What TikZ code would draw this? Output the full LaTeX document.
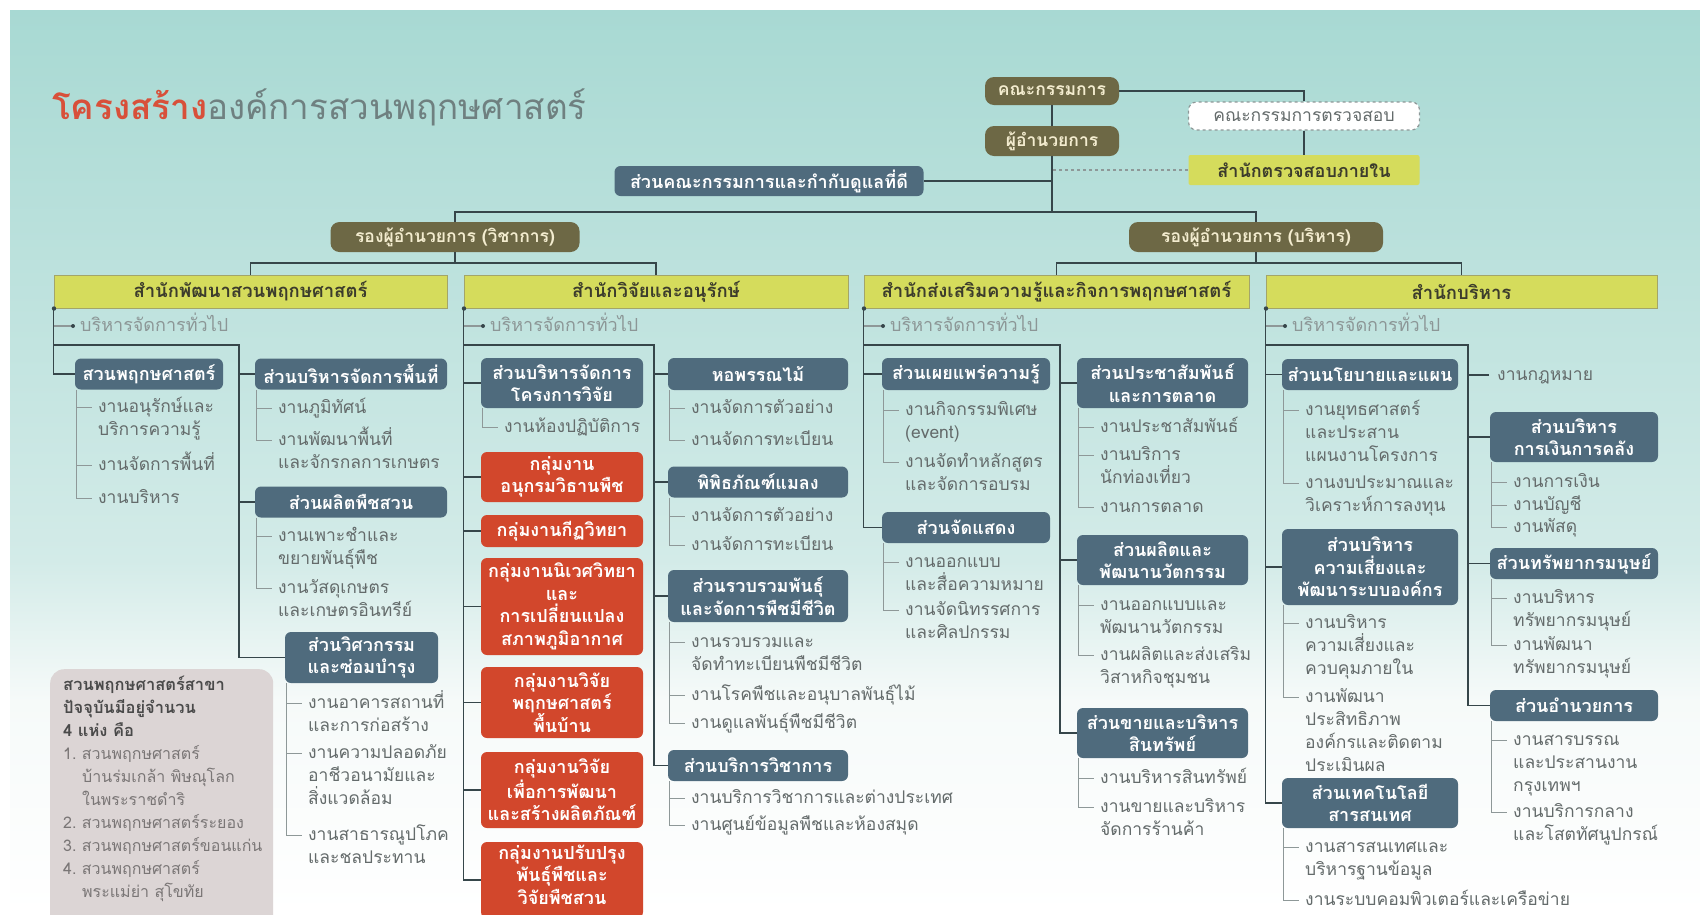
\documentclass[tikz,border=0pt]{standalone}
\usepackage{fontspec}
\newfontfamily\thai[Script=Thai]{Loma}
\usetikzlibrary{calc}
\definecolor{cBlue}{HTML}{4F6B7D}
\definecolor{cRed}{HTML}{D2472C}
\definecolor{cYel}{HTML}{D5DC5C}
\definecolor{cYelB}{HTML}{A3A56A}
\definecolor{cOlive}{HTML}{6D6845}
\definecolor{cOlTxt}{HTML}{F3ECCF}
\definecolor{cSpine}{HTML}{36464A}
\definecolor{cItemL}{HTML}{8E9898}
\definecolor{cItemT}{HTML}{646B6B}
\definecolor{cGen}{HTML}{8C9696}
\definecolor{cHdrTxt}{HTML}{3C3C2C}
\definecolor{cNote}{HTML}{DCD5D5}
\definecolor{cNoteB}{HTML}{4A4A4A}
\definecolor{cNoteL}{HTML}{7A7676}
\definecolor{cTitleR}{HTML}{D8503A}
\definecolor{cTitleG}{HTML}{6F8080}
\definecolor{bgTop}{HTML}{A8D9D3}
\definecolor{bgMid}{HTML}{D3EBE8}
\definecolor{bgLow}{HTML}{F6FAF9}
\newcommand\myBoxFont{\thai\bfseries\fontsize{18}{22.5}\selectfont}
\newcommand\myItemFont{\thai\fontsize{17.5}{23}\selectfont}
\newcommand\myHdrFont{\thai\bfseries\fontsize{18.5}{22}\selectfont}
\newcommand\myOlFont{\thai\bfseries\fontsize{17.5}{20}\selectfont}
\newcommand\myNoteFont{\thai\fontsize{16}{23}\selectfont}
% item: name, vertical-line x, first-line y, text
\newcommand\Itm[4]{%
  \node[itemtext, anchor=north west] (#1) at (#2+21,#3-14) {\rule{0pt}{19pt}#4};
  \draw[itemline] (#2,#3) -- ([shift={(-6,14)}]#1.north west);}
\newcommand\Gen[2]{%
  \draw[itemline, line width=1.2pt] (#2,326) -- (#2+19,326);
  \fill[cSpine] (#2+19,326) circle (2pt);
  \node[gentext, anchor=base west] (#1) at (#2+26,331.5) {บริหารจัดการทั่วไป};
  \fill[cSpine] (#2,308.5) circle (2.2pt);}
\begin{document}
\begin{tikzpicture}[x=1pt,y=-1pt,
  bluebox/.style={rounded corners=6pt, fill=cBlue, text=white, font=\myBoxFont, align=center, inner sep=0pt},
  redbox/.style={bluebox, fill=cRed},
  hdr/.style={fill=cYel, draw=cYelB, line width=1pt, font=\myHdrFont, text=cHdrTxt, inner sep=0pt},
  olbox/.style={rounded corners=9pt, fill=cOlive, text=cOlTxt, font=\myOlFont, inner sep=0pt},
  auditbox/.style={rounded corners=8pt, fill=white, draw=cItemL, dashed, line width=1.2pt, text=cItemT, font=\thai\fontsize{17.5}{20}\selectfont, inner sep=0pt},
  spine/.style={draw=cSpine, line width=1.3pt},
  itemline/.style={draw=cItemL, line width=0.9pt},
  itemtext/.style={font=\myItemFont, text=cItemT, align=left, inner sep=0pt},
  gentext/.style={font=\thai\fontsize{18}{22}\selectfont, text=cGen, inner sep=0pt},
  notebox/.style={fill=cNote, rounded corners=14pt, inner sep=0pt}
]
\useasboundingbox (0,0) rectangle (1700,914);
% background
\fill[white] (0,0) rectangle (1700,914);
\shade[top color=bgTop, bottom color=bgMid] (10,10) rectangle (1700,560.5);
\shade[top color=bgMid, bottom color=bgLow] (10,560) rectangle (1700,700.5);
\shade[top color=bgLow, bottom color=white] (10,700) rectangle (1700,914);

% title
\node[anchor=base west, inner sep=0pt] (title) at (52,119)
  {\thai\fontsize{35}{40}\selectfont{\bfseries\color{cTitleR}โครงสร้าง}{\color{cTitleG}องค์การสวนพฤกษศาสตร์}};

% top nodes
\node[olbox, minimum width=134pt, minimum height=28pt] (kk) at (1052,91) {คณะกรรมการ};
\node[olbox, minimum width=134pt, minimum height=30pt] (dir) at (1052,141) {ผู้อำนวยการ};
\node[auditbox, minimum width=231pt, minimum height=28pt] (audit) at (1304,116) {คณะกรรมการตรวจสอบ};
\node[hdr, draw=none, rounded corners=2pt, font=\myBoxFont, minimum width=231pt, minimum height=30pt] (ia) at (1304,170) {สำนักตรวจสอบภายใน};
\node[bluebox, minimum width=309pt, minimum height=30pt] (gov) at (769,181) {ส่วนคณะกรรมการและกำกับดูแลที่ดี};
\node[olbox, minimum width=249pt, minimum height=30pt] (vpa) at (455,237) {รองผู้อำนวยการ (วิชาการ)};
\node[olbox, minimum width=254pt, minimum height=30pt] (vpb) at (1256,237) {รองผู้อำนวยการ (บริหาร)};
\coordinate (busc) at (1052,212);

\draw[spine] (kk) -- (dir);
\draw[spine] (dir.south) -- (busc);
\draw[spine] (kk.east) -| (audit.north);
\draw[spine] (audit) -- (ia);
\draw[draw=cItemL, dashed, line width=1.5pt] (ia.west) -- (ia.west -| dir.south);
\draw[spine] (gov.east) -- (gov.east -| dir.south);
\draw[spine] (vpa.north) |- (busc) -| (vpb.north);

% headers
\node[hdr, minimum width=393pt, minimum height=33pt] (h1) at (250.5,291.5) {สำนักพัฒนาสวนพฤกษศาสตร์};
\node[hdr, minimum width=384pt, minimum height=33pt] (h2) at (656,291.5) {สำนักวิจัยและอนุรักษ์};
\node[hdr, minimum width=385pt, minimum height=33pt] (h3) at (1056.5,291.5) {สำนักส่งเสริมความรู้และกิจการพฤกษศาสตร์};
\node[hdr, minimum width=391pt, minimum height=33pt] (h4) at (1461.5,291.5) {สำนักบริหาร};
\coordinate (b2a) at (455,263);
\coordinate (b2b) at (1256,263);
\draw[spine] (vpa.south) -- (b2a);
\draw[spine] (vpb.south) -- (b2b);
\draw[spine] (h1.north) |- (b2a) -| (h2.north);
\draw[spine] (h3.north) |- (b2b) -| (h4.north);

% ================= column 1
\node[bluebox, minimum width=148pt, minimum height=31pt] (b11) at (149,374) {สวนพฤกษศาสตร์};
\node[bluebox, minimum width=192pt, minimum height=31pt] (b12) at (351,374) {ส่วนบริหารจัดการพื้นที่};
\node[bluebox, minimum width=192pt, minimum height=31pt] (b13) at (351,502) {ส่วนผลิตพืชสวน};
\node[bluebox, minimum width=153pt, minimum height=51pt] (b14) at (361.5,657.5) {ส่วนวิศวกรรม\\และซ่อมบำรุง};
\draw[spine] (h1.south west) |- (b11.west);
\draw[spine] (54,345) -- (239,345) |- (b14.west);
\draw[spine] (b12.west) -- ++(-16,0);
\draw[spine] (b13.west) -- ++(-16,0);
\Gen{g1}{54}
\Itm{i11a}{77}{407}{งานอนุรักษ์และ\\บริการความรู้}
\Itm{i11b}{77}{465}{งานจัดการพื้นที่}
\Itm{i11c}{77}{498}{งานบริหาร}
\draw[itemline] ([xshift=2pt]b11.south west) |- ([shift={(-6,14)}]i11c.north west);
\Itm{i12a}{257}{408}{งานภูมิทัศน์}
\Itm{i12b}{257}{440}{งานพัฒนาพื้นที่\\และจักรกลการเกษตร}
\draw[itemline] ([xshift=2pt]b12.south west) |- ([shift={(-6,14)}]i12b.north west);
\Itm{i13a}{257}{536}{งานเพาะชำและ\\ขยายพันธุ์พืช}
\Itm{i13b}{257}{588}{งานวัสดุเกษตร\\และเกษตรอินทรีย์}
\draw[itemline] ([xshift=2pt]b13.south west) |- ([shift={(-6,14)}]i13b.north west);
\Itm{i14a}{287}{703}{งานอาคารสถานที่\\และการก่อสร้าง}
\Itm{i14b}{287}{753}{งานความปลอดภัย\\อาชีวอนามัยและ\\สิ่งแวดล้อม}
\Itm{i14c}{287}{835}{งานสาธารณูปโภค\\และชลประทาน}
\draw[itemline] ([xshift=2pt]b14.south west) |- ([shift={(-6,14)}]i14c.north west);

% note box
\node[notebox, anchor=north west, minimum width=223pt, minimum height=262pt] (notebg) at (50,669) {};
\node[anchor=north west, align=left, inner sep=0pt, font=\myNoteFont, text=cNoteL] (note) at (63,671)
 {\rule{0pt}{19pt}{\bfseries\color{cNoteB}\fontsize{16.5}{23}\selectfont สวนพฤกษศาสตร์สาขา}\\
  {\bfseries\color{cNoteB}\fontsize{16.5}{23}\selectfont ปัจจุบันมีอยู่จำนวน}\\
  {\bfseries\color{cNoteB}\fontsize{16.5}{23}\selectfont 4 แห่ง คือ}\\
  1.\ สวนพฤกษศาสตร์\\
  \hspace*{19pt}บ้านร่มเกล้า พิษณุโลก\\
  \hspace*{19pt}ในพระราชดำริ\\
  2.\ สวนพฤกษศาสตร์ระยอง\\
  3.\ สวนพฤกษศาสตร์ขอนแก่น\\
  4.\ สวนพฤกษศาสตร์\\
  \hspace*{19pt}พระแม่ย่า สุโขทัย};

% ================= column 2
\node[bluebox, minimum width=162pt, minimum height=50pt] (b21) at (562,383) {ส่วนบริหารจัดการ\\โครงการวิจัย};
\node[redbox, minimum width=162pt, minimum height=50pt] (r1) at (562,477) {กลุ่มงาน\\อนุกรมวิธานพืช};
\node[redbox, minimum width=162pt, minimum height=32pt] (r2) at (562,531) {กลุ่มงานกีฏวิทยา};
\node[redbox, minimum width=162pt, minimum height=97pt] (r3) at (562,606.5) {กลุ่มงานนิเวศวิทยา\\และ\\การเปลี่ยนแปลง\\สภาพภูมิอากาศ};
\node[redbox, minimum width=162pt, minimum height=71pt] (r4) at (562,702.5) {กลุ่มงานวิจัย\\พฤกษศาสตร์\\พื้นบ้าน};
\node[redbox, minimum width=162pt, minimum height=76pt] (r5) at (562,790) {กลุ่มงานวิจัย\\เพื่อการพัฒนา\\และสร้างผลิตภัณฑ์};
\node[redbox, minimum width=162pt, minimum height=76pt] (r6) at (562,880) {กลุ่มงานปรับปรุง\\พันธุ์พืชและ\\วิจัยพืชสวน\rule[-11pt]{0pt}{1pt}};
\node[bluebox, minimum width=180pt, minimum height=32pt] (s1) at (758,374) {หอพรรณไม้};
\node[bluebox, minimum width=180pt, minimum height=31pt] (s2) at (758,482) {พิพิธภัณฑ์แมลง};
\node[bluebox, minimum width=180pt, minimum height=52pt] (s3) at (758,596) {ส่วนรวบรวมพันธุ์\\และจัดการพืชมีชีวิต};
\node[bluebox, minimum width=180pt, minimum height=31pt] (s4) at (758,765.5) {ส่วนบริการวิชาการ};
\draw[spine] (h2.south west) |- (r6.west);
\foreach \n in {b21,r1,r2,r3,r4,r5} \draw[spine] (\n.west) -- ++(-17,0);
\draw[spine] (464,345) -- (654,345) |- (s4.west);
\foreach \n in {s1,s2,s3} \draw[spine] (\n.west) -- ++(-14,0);
\Gen{g2}{464}
\Itm{i21a}{483}{427}{งานห้องปฏิบัติการ}
\draw[itemline] ([xshift=2pt]b21.south west) |- ([shift={(-6,14)}]i21a.north west);
\Itm{is1a}{670}{408}{งานจัดการตัวอย่าง}
\Itm{is1b}{670}{440}{งานจัดการทะเบียน}
\draw[itemline] ([xshift=2pt]s1.south west) |- ([shift={(-6,14)}]is1b.north west);
\Itm{is2a}{670}{516}{งานจัดการตัวอย่าง}
\Itm{is2b}{670}{545}{งานจัดการทะเบียน}
\draw[itemline] ([xshift=2pt]s2.south west) |- ([shift={(-6,14)}]is2b.north west);
\Itm{is3a}{670}{642}{งานรวบรวมและ\\จัดทำทะเบียนพืชมีชีวิต}
\Itm{is3b}{670}{695}{งานโรคพืชและอนุบาลพันธุ์ไม้}
\Itm{is3c}{670}{723}{งานดูแลพันธุ์พืชมีชีวิต}
\draw[itemline] ([xshift=2pt]s3.south west) |- ([shift={(-6,14)}]is3c.north west);
\Itm{is4a}{670}{798}{งานบริการวิชาการและต่างประเทศ}
\Itm{is4b}{670}{825}{งานศูนย์ข้อมูลพืชและห้องสมุด}
\draw[itemline] ([xshift=2pt]s4.south west) |- ([shift={(-6,14)}]is4b.north west);

% ================= column 3
\node[bluebox, minimum width=168pt, minimum height=32pt] (c1) at (966,374) {ส่วนเผยแพร่ความรู้};
\node[bluebox, minimum width=168pt, minimum height=31pt] (c2) at (966,527.5) {ส่วนจัดแสดง};
\node[bluebox, minimum width=171pt, minimum height=50pt] (d1) at (1162.5,383) {ส่วนประชาสัมพันธ์\\และการตลาด};
\node[bluebox, minimum width=171pt, minimum height=50pt] (d2) at (1162.5,560) {ส่วนผลิตและ\\พัฒนานวัตกรรม};
\node[bluebox, minimum width=171pt, minimum height=50pt] (d3) at (1162.5,733) {ส่วนขายและบริหาร\\สินทรัพย์};
\draw[spine] (h3.south west) |- (c2.west);
\draw[spine] (c1.west) -- ++(-18,0);
\draw[spine] (864,345) -- (1060,345) |- (d3.west);
\foreach \n in {d1,d2} \draw[spine] (\n.west) -- ++(-17,0);
\Gen{g3}{864}
\Itm{ic1a}{884}{410}{งานกิจกรรมพิเศษ\\(event)}
\Itm{ic1b}{884}{462}{งานจัดทำหลักสูตร\\และจัดการอบรม}
\draw[itemline] ([xshift=2pt]c1.south west) |- ([shift={(-6,14)}]ic1b.north west);
\Itm{ic2a}{884}{562}{งานออกแบบ\\และสื่อความหมาย}
\Itm{ic2b}{884}{610}{งานจัดนิทรรศการ\\และศิลปกรรม}
\draw[itemline] ([xshift=2pt]c2.south west) |- ([shift={(-6,14)}]ic2b.north west);
\Itm{id1a}{1079}{427}{งานประชาสัมพันธ์}
\Itm{id1b}{1079}{455}{งานบริการ\\นักท่องเที่ยว}
\Itm{id1c}{1079}{507}{งานการตลาด}
\draw[itemline] ([xshift=2pt]d1.south west) |- ([shift={(-6,14)}]id1c.north west);
\Itm{id2a}{1079}{605}{งานออกแบบและ\\พัฒนานวัตกรรม}
\Itm{id2b}{1079}{655}{งานผลิตและส่งเสริม\\วิสาหกิจชุมชน}
\draw[itemline] ([xshift=2pt]d2.south west) |- ([shift={(-6,14)}]id2b.north west);
\Itm{id3a}{1079}{778}{งานบริหารสินทรัพย์}
\Itm{id3b}{1079}{807}{งานขายและบริหาร\\จัดการร้านค้า}
\draw[itemline] ([xshift=2pt]d3.south west) |- ([shift={(-6,14)}]id3b.north west);

% ================= column 4
\node[bluebox, minimum width=176pt, minimum height=31pt] (e1) at (1370,374.5) {ส่วนนโยบายและแผน};
\node[bluebox, minimum width=176pt, minimum height=76pt] (e2) at (1370,567) {ส่วนบริหาร\\ความเสี่ยงและ\\พัฒนาระบบองค์กร};
\node[bluebox, minimum width=176pt, minimum height=50pt] (e3) at (1370,803) {ส่วนเทคโนโลยี\\สารสนเทศ};
\node[bluebox, minimum width=168pt, minimum height=50pt] (f1) at (1574,437) {ส่วนบริหาร\\การเงินการคลัง};
\node[bluebox, minimum width=168pt, minimum height=31pt] (f2) at (1574,563.5) {ส่วนทรัพยากรมนุษย์};
\node[bluebox, minimum width=168pt, minimum height=31pt] (f3) at (1574,705.5) {ส่วนอำนวยการ};
\node[itemtext, anchor=base west] (law) at (1497,380.5) {งานกฎหมาย};
\draw[spine] (h4.south west) |- (e3.west);
\foreach \n in {e1,e2} \draw[spine] (\n.west) -- ++(-16,0);
\draw[spine] (1266,345) -- (1468,345) |- (f3.west);
\foreach \n in {f1,f2} \draw[spine] (\n.west) -- ++(-22,0);
\draw[spine] ([shift={(-8,-5.5)}]law.base west) -- ++(-21,0);
\Gen{g4}{1266}
\Itm{ie1a}{1284}{410}{งานยุทธศาสตร์\\และประสาน\\แผนงานโครงการ}
\Itm{ie1b}{1284}{483}{งานงบประมาณและ\\วิเคราะห์การลงทุน}
\draw[itemline] ([xshift=2pt]e1.south west) |- ([shift={(-6,14)}]ie1b.north west);
\Itm{ie2a}{1284}{623}{งานบริหาร\\ความเสี่ยงและ\\ควบคุมภายใน}
\Itm{ie2b}{1284}{697}{งานพัฒนา\\ประสิทธิภาพ\\องค์กรและติดตาม\\ประเมินผล}
\draw[itemline] ([xshift=2pt]e2.south west) |- ([shift={(-6,14)}]ie2b.north west);
\Itm{ie3a}{1284}{847}{งานสารสนเทศและ\\บริหารฐานข้อมูล}
\Itm{ie3b}{1284}{900}{งานระบบคอมพิวเตอร์และเครือข่าย}
\draw[itemline] ([xshift=2pt]e3.south west) |- ([shift={(-6,14)}]ie3b.north west);
\Itm{if1a}{1492}{482}{งานการเงิน}
\Itm{if1b}{1492}{505}{งานบัญชี}
\Itm{if1c}{1492}{527}{งานพัสดุ}
\draw[itemline] ([xshift=2pt]f1.south west) |- ([shift={(-6,14)}]if1c.north west);
\Itm{if2a}{1492}{598}{งานบริหาร\\ทรัพยากรมนุษย์}
\Itm{if2b}{1492}{645}{งานพัฒนา\\ทรัพยากรมนุษย์}
\draw[itemline] ([xshift=2pt]f2.south west) |- ([shift={(-6,14)}]if2b.north west);
\Itm{if3a}{1492}{740}{งานสารบรรณ\\และประสานงาน\\กรุงเทพฯ}
\Itm{if3b}{1492}{812}{งานบริการกลาง\\และโสตทัศนูปกรณ์}
\draw[itemline] ([xshift=2pt]f3.south west) |- ([shift={(-6,14)}]if3b.north west);
\end{tikzpicture}
\end{document}
